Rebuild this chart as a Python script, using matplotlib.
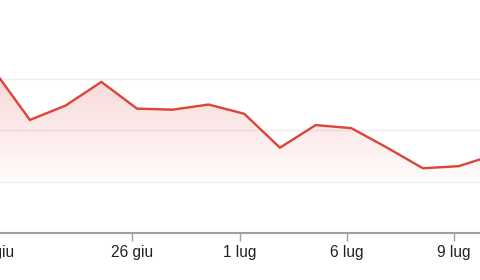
import numpy as np
import matplotlib
matplotlib.use("Agg")
import matplotlib.pyplot as plt
from matplotlib.colors import LinearSegmentedColormap
from matplotlib.patches import Polygon

# daily closes (trading days, 22 giu -> 10 lug)
dates = ["22 giu", "23 giu", "24 giu", "25 giu", "26 giu", "29 giu", "30 giu",
         "1 lug", "2 lug", "3 lug", "6 lug", "7 lug", "8 lug", "9 lug", "10 lug"]
prices = [12.08, 11.60, 11.74, 11.97, 11.71, 11.70, 11.75,
          11.66, 11.33, 11.55, 11.52, 11.33, 11.13, 11.15, 11.26]
tick_labels = ["26 giu", "1 lug", "6 lug", "9 lug"]
first_label = "22 giu"   # its tick sits just left of the visible range
grid_levels = [11.0, 11.5, 12.0]

red = "#db4437"
axis_grey = "#a0a0a0"
fs = 11.2

x = np.arange(len(dates))
fig = plt.figure(figsize=(4.8, 2.8), dpi=100)
ax = fig.add_axes([0, 47 / 280, 1, 233 / 280])

ymin, ymax = 10.5, 12.767
xmin, xmax = 0.163, 13.6
fill_floor = 11.0

# gradient fill under the line, fading out towards the lowest grid line
cmap = LinearSegmentedColormap.from_list("fade", [(0.86, 0.27, 0.22, 0.02),
                                                  (0.86, 0.27, 0.22, 0.22)])
levels = np.linspace(fill_floor, ymax, 256)
grad = np.clip((levels - fill_floor) / (12.1 - fill_floor), 0, 1).reshape(-1, 1)
img = ax.imshow(grad, cmap=cmap, aspect="auto", origin="lower",
                extent=[x[0], x[-1], fill_floor, ymax], vmin=0, vmax=1, zorder=1)
poly = Polygon(np.column_stack([np.r_[x, x[-1], x[0]],
                                np.r_[prices, fill_floor, fill_floor]]),
               closed=True, facecolor="none", edgecolor="none")
ax.add_patch(poly)
img.set_clip_path(poly)

for g in grid_levels:
    ax.axhline(g, color="#efefef", lw=1, zorder=0)

ax.plot(x, prices, color=red, lw=1.7, solid_joinstyle="miter", zorder=3)

tick_pos = [dates.index(d) - 0.13 for d in tick_labels]
ax.set_xticks(tick_pos)
ax.set_xticklabels(tick_labels, fontsize=fs, color="#222222", family="Liberation Sans")
ax.tick_params(axis="x", length=5.5, width=1, color=axis_grey, pad=3)
ax.set_yticks([])

# label of the tick that falls outside the view, drawn like a tick label
ax.annotate(first_label, xy=(dates.index(first_label) - 0.04, 0),
            xycoords=ax.get_xaxis_transform(), xytext=(0, -8.5),
            textcoords="offset points", ha="center", va="top",
            fontsize=fs, color="#222222", family="Liberation Sans",
            annotation_clip=False)

ax.set_xlim(xmin, xmax)
ax.set_ylim(ymin, ymax)

for s in ["top", "left", "right"]:
    ax.spines[s].set_visible(False)
ax.spines["bottom"].set_color(axis_grey)
ax.spines["bottom"].set_linewidth(1.5)

fig.savefig("out.png", dpi=100)
